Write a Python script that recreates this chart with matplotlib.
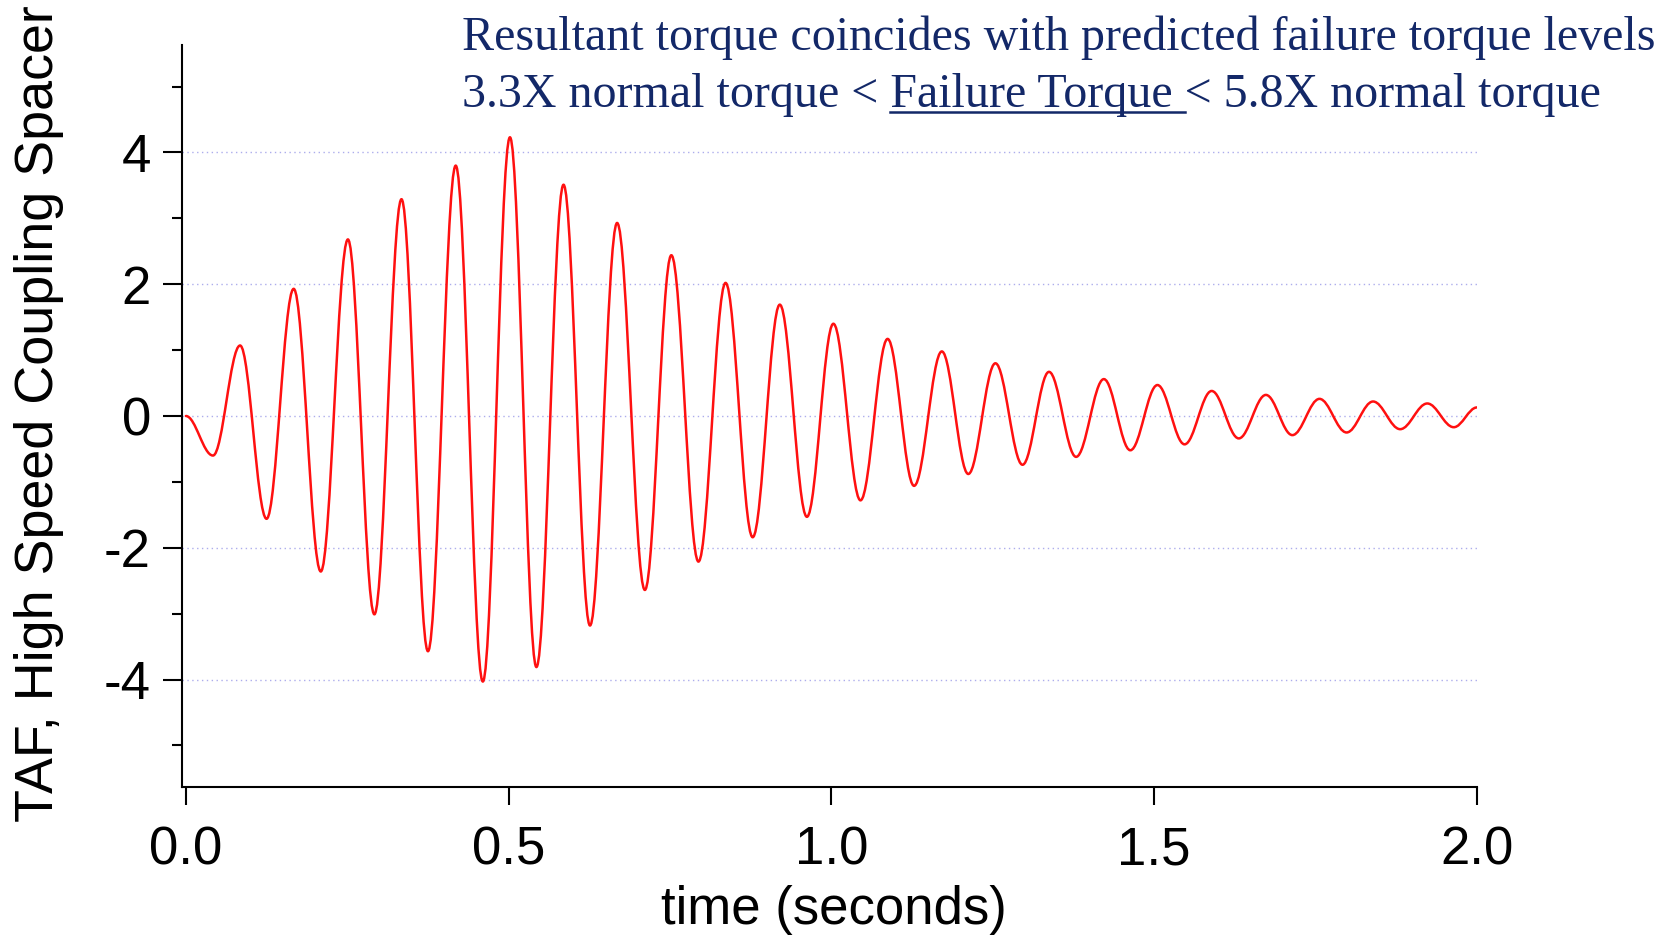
import matplotlib
matplotlib.use("Agg")
import matplotlib.pyplot as plt
from matplotlib.path import Path
from matplotlib.patches import PathPatch
from matplotlib.lines import Line2D

plt.rcParams['font.family'] = ['Liberation Sans', 'DejaVu Sans']
plt.rcParams['axes.unicode_minus'] = False

# extrema of the torque trace (time in s, TAF)
ext_time = [0.000, 0.042, 0.084, 0.125, 0.167, 0.209, 0.251, 0.292, 0.334, 0.375,
            0.418, 0.460, 0.502, 0.543, 0.585, 0.626, 0.668, 0.711, 0.752, 0.794,
            0.836, 0.878, 0.920, 0.962, 1.003, 1.045, 1.087, 1.128, 1.171, 1.212,
            1.254, 1.296, 1.337, 1.379, 1.422, 1.463, 1.505, 1.547, 1.589, 1.631,
            1.673, 1.714, 1.756, 1.798, 1.839, 1.881, 1.923, 1.964, 2.000]
ext_taf = [0.00, -0.60, 1.07, -1.56, 1.93, -2.36, 2.68, -3.01, 3.29, -3.57,
           3.80, -4.03, 4.23, -3.81, 3.51, -3.18, 2.93, -2.64, 2.44, -2.21,
           2.02, -1.84, 1.69, -1.53, 1.40, -1.28, 1.17, -1.06, 0.98, -0.88,
           0.80, -0.74, 0.67, -0.62, 0.56, -0.52, 0.47, -0.43, 0.38, -0.34,
           0.32, -0.29, 0.26, -0.25, 0.22, -0.20, 0.19, -0.17, 0.13]

x_ticks = [0.0, 0.5, 1.0, 1.5, 2.0]
x_ticklabels = ['0.0', '0.5', '1.0', '1.5', '2.0']
y_ticks = [-4, -2, 0, 2, 4]
y_minor = [-5, -3, -1, 1, 3, 5]

title1 = "Resultant torque coincides with predicted failure torque levels"
title2_a = "3.3X normal torque < "
title2_b = "Failure Torque "
title2_c = "< 5.8X normal torque"
navy = '#132868'

W, H = 1675, 938
fig = plt.figure(figsize=(W / 100, H / 100), dpi=100)
ax = fig.add_axes([182 / W, 1 - 787 / H, (1477 - 182) / W, (787 - 45) / H])

# smooth trace between extrema (cubic bezier, flat at each extremum)
k = 0.364
verts = [(ext_time[0], ext_taf[0])]
codes = [Path.MOVETO]
for i in range(1, len(ext_time)):
    dt = ext_time[i] - ext_time[i - 1]
    verts += [(ext_time[i - 1] + k * dt, ext_taf[i - 1]),
              (ext_time[i] - k * dt, ext_taf[i]),
              (ext_time[i], ext_taf[i])]
    codes += [Path.CURVE4] * 3
ax.add_patch(PathPatch(Path(verts, codes), fill=False, edgecolor='#ff1010',
                       lw=1.8, capstyle='round', joinstyle='round', zorder=3))

ax.set_xlim(-0.006, 2.0)
ax.set_ylim(-5.63, 5.63)
ax.set_xticks(x_ticks)
ax.set_xticklabels(x_ticklabels)
ax.set_yticks(y_ticks)
ax.set_yticks(y_minor, minor=True)
ax.tick_params(axis='both', which='major', labelsize=38, width=1.5, color='black')
ax.tick_params(axis='x', which='major', length=13, pad=15)
ax.tick_params(axis='y', which='major', length=13.5, pad=9)
ax.tick_params(axis='y', which='minor', length=7, width=1.5)
for s in ['top', 'right']:
    ax.spines[s].set_visible(False)
for s in ['left', 'bottom']:
    ax.spines[s].set_linewidth(1.5)
ax.yaxis.grid(True, which='major', color='#adadec', lw=1.0, linestyle=(0, (1, 2.5)))
ax.set_axisbelow(True)

fig.text(64 / W, 1 - 414 / H, "TAF, High Speed Coupling Spacer", rotation=90,
         ha='right', va='center', fontsize=38.8)
fig.text(834 / W, 1 - 924 / H, "time (seconds)", ha='center', va='baseline', fontsize=38)

serif = ['Liberation Serif', 'DejaVu Serif']
tsize = 34.6
fig.text(462 / W, 1 - 50 / H, title1, ha='left', va='baseline', fontsize=tsize,
         family=serif, color=navy)
line2 = fig.text(462 / W, 1 - 107 / H, title2_a + title2_b + title2_c, ha='left',
                 va='baseline', fontsize=tsize, family=serif, color=navy)

# underline "Failure Torque "
fig.canvas.draw()
r = fig.canvas.get_renderer()


def text_w(s):
    t = fig.text(0, 0, s, fontsize=tsize, family=serif)
    w = t.get_window_extent(r).width
    t.remove()
    return w


x0 = line2.get_window_extent(r).x0
u0 = x0 + text_w(title2_a + "F") - text_w("F")
u1 = x0 + text_w(title2_a + title2_b + "<") - text_w("<")
fig.add_artist(Line2D([u0 / W, u1 / W], [1 - 112 / H, 1 - 112 / H], color=navy,
                      lw=1.8, transform=fig.transFigure))

fig.savefig('out.png', dpi=100)
